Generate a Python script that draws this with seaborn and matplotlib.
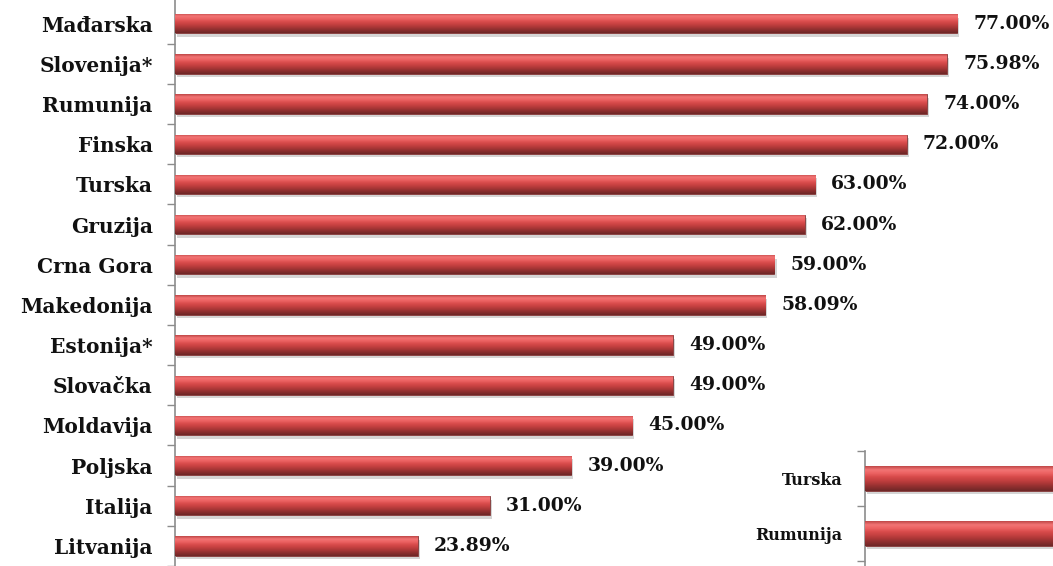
import numpy as np
import pandas as pd
import seaborn as sns
import matplotlib.pyplot as plt
import matplotlib.patheffects as pe
from matplotlib.colors import LinearSegmentedColormap

# data
countries = ["Mađarska", "Slovenija*", "Rumunija", "Finska", "Turska", "Gruzija",
             "Crna Gora", "Makedonija", "Estonija*", "Slovačka", "Moldavija",
             "Poljska", "Italija", "Litvanija"]
values = [77.00, 75.98, 74.00, 72.00, 63.00, 62.00, 59.00, 58.09, 49.00, 49.00,
          45.00, 39.00, 31.00, 23.89]
value_labels = ["77.00%", "75.98%", "74.00%", "72.00%", "63.00%", "62.00%", "59.00%",
                "58.09%", "49.00%", "49.00%", "45.00%", "39.00%", "31.00%", "23.89%"]

inset_countries = ["Turska", "Rumunija"]
inset_values = [63.00, 74.00]

sns.set_style("white")
plt.rcParams['font.family'] = ['DejaVu Serif', 'Liberation Serif']

df = pd.DataFrame({"Country": countries, "Value": values})
df_in = pd.DataFrame({"Country": inset_countries, "Value": inset_values})

# glossy red fill, top to bottom
bar_cmap = LinearSegmentedColormap.from_list(
    "gloss", ["#c04848", "#f27474", "#ec6262", "#d84b4b", "#c44040", "#a83636",
              "#8a2e2e", "#6e2727"])


def gloss_bars(ax):
    grad = np.linspace(0, 1, 64).reshape(-1, 1)
    for p in ax.patches:
        x0, y0 = p.get_x(), p.get_y()
        w, h = p.get_width(), p.get_height()
        p.set_facecolor("white")
        p.set_edgecolor("#7a2626")
        p.set_linewidth(0.6)
        p.set_path_effects([pe.SimplePatchShadow(offset=(1.5, -2.5), shadow_rgbFace="#888888",
                                                 alpha=0.35), pe.Normal()])
        im = ax.imshow(grad, cmap=bar_cmap, aspect="auto",
                       extent=[x0, x0 + w, y0 + h, y0], zorder=3)
        im.set_clip_path(p)


def style_axis(ax, minor_pos, size):
    ax.set_xlabel("")
    ax.set_ylabel("")
    ax.set_xticks([])
    for s in ["top", "right", "bottom"]:
        ax.spines[s].set_visible(False)
    ax.spines["left"].set_color("#8c8c8c")
    ax.spines["left"].set_linewidth(1.2)
    ax.tick_params(axis="y", which="major", left=False, length=0, pad=16)
    ax.set_yticks(minor_pos, minor=True)
    ax.tick_params(axis="y", which="minor", left=True, length=6,
                   color="#8c8c8c", width=1)
    for lab in ax.get_yticklabels():
        lab.set_fontsize(size)
        lab.set_fontweight("bold")
        lab.set_color("#111111")


fig = plt.figure(figsize=(10.53, 5.66), dpi=100)

# main chart
ax = fig.add_axes([175 / 1053, 0, 878 / 1053, 1])
sns.barplot(data=df, x="Value", y="Country", orient="h", width=0.48,
            color="#cf4343", ax=ax)
gloss_bars(ax)
ax.set_xlim(0, 878 / 10.16)
ax.set_ylim(13.24, -0.59)
style_axis(ax, np.arange(0.5, len(countries), 1.0), 14.5)
for i, (v, t) in enumerate(zip(values, value_labels)):
    ax.text(v + 1.6, i, t, va="center", ha="left", fontsize=13.5,
            fontweight="bold", color="#111111")

# partial inset chart in the lower right
ax2 = fig.add_axes([865 / 1053, 0, 188 / 1053, 115 / 566])
sns.barplot(data=df_in, x="Value", y="Country", orient="h", width=0.45,
            color="#cf4343", ax=ax2)
gloss_bars(ax2)
ax2.set_xlim(0, 20)
ax2.set_ylim(1.59, -0.5)
style_axis(ax2, [-0.5, 0.5, 1.5], 11.5)

fig.savefig("out.png", dpi=100)
